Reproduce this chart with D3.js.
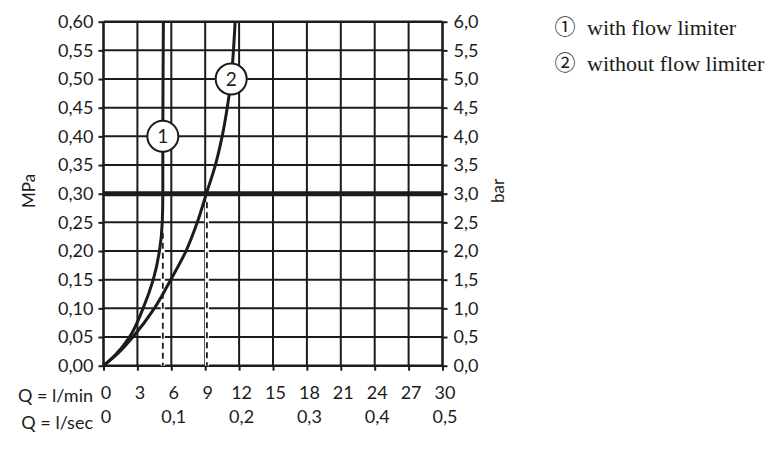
<!DOCTYPE html>
<html><head><meta charset="utf-8">
<script src="https://cdn.jsdelivr.net/npm/d3@7/dist/d3.min.js"></script>
<style>
html,body{margin:0;padding:0;background:#fff;}
svg{display:block;}
</style></head>
<body><svg id="c" width="780" height="450"></svg>
<script>
// ---- data ----
const qTicks = [0,3,6,9,12,15,18,21,24,27,30];           // l/min
const qsecTicks = [0,0.1,0.2,0.3,0.4,0.5];               // l/sec
const qsecLabels = ["0","0,1","0,2","0,3","0,4","0,5"];
const mpaTicks = [0,0.05,0.10,0.15,0.20,0.25,0.30,0.35,0.40,0.45,0.50,0.55,0.60];
const mpaLabels = ["0,00","0,05","0,10","0,15","0,20","0,25","0,30","0,35","0,40","0,45","0,50","0,55","0,60"];
const barTicks = [0,0.5,1,1.5,2,2.5,3,3.5,4,4.5,5,5.5,6];
const barLabels = ["0,0","0,5","1,0","1,5","2,0","2,5","3,0","3,5","4,0","4,5","5,0","5,5","6,0"];
// curve 1: with flow limiter  [Q l/min, p MPa]
const curve1 = [[0,0],[1.1,0.02],[2.3,0.05],[3.5,0.10],[4.4,0.15],[4.95,0.20],[5.2,0.25],[5.25,0.30],[5.25,0.40],[5.27,0.50],[5.3,0.60]];
// curve 2: without flow limiter
const curve2 = [[0,0],[1.2,0.02],[2.6,0.05],[4.5,0.10],[5.95,0.15],[7.3,0.20],[8.3,0.25],[9.1,0.30],[9.9,0.35],[10.5,0.40],[10.95,0.45],[11.3,0.50],[11.5,0.55],[11.65,0.60]];
const refPressure = 0.30;
const dashes = [{q:5.25, top:0.232},{q:9.15, top:0.285}];
const markers = [{q:5.25, p:0.40, label:"1"},{q:11.3, p:0.50, label:"2"}];
const legend = [{sym:"\u2460", text:"with flow limiter"},{sym:"\u2461", text:"without flow limiter"}];

// ---- chart ----
const svg = d3.select("#c");
const ink = "#1c1c1c";
const axisFont = "Lato, 'DejaVu Sans', sans-serif";
const x = d3.scaleLinear().domain([0,30]).range([103.5,442.5]);
const xs = d3.scaleLinear().domain([0,0.5]).range([103.5,442.5]);
const y = d3.scaleLinear().domain([0,0.6]).range([365.7,21.7]);
const yb = d3.scaleLinear().domain([0,6]).range([365.7,21.7]);

const g = svg.append("g");
// grid
g.selectAll("line.v").data(qTicks).join("line")
  .attr("x1",d=>x(d)).attr("x2",d=>x(d)).attr("y1",y(0)).attr("y2",y(0.6))
  .attr("stroke",ink).attr("stroke-width",d=>(d===0||d===30)?2.6:2);
g.selectAll("line.h").data(mpaTicks).join("line")
  .attr("x1",x(0)).attr("x2",x(30)).attr("y1",d=>y(d)).attr("y2",d=>y(d))
  .attr("stroke",ink).attr("stroke-width",d=>(d===0||d===0.6)?2.6:2);

// axes (ticks + labels)
const left = svg.append("g").attr("transform",`translate(${x(0)},0)`)
  .call(d3.axisLeft(y).tickValues(mpaTicks).tickSize(5).tickPadding(5).tickFormat((d,i)=>mpaLabels[i]));
const right = svg.append("g").attr("transform",`translate(${x(30)},0)`)
  .call(d3.axisRight(yb).tickValues(barTicks).tickSize(5).tickPadding(6).tickFormat((d,i)=>barLabels[i]));
const bottom = svg.append("g").attr("transform",`translate(0,${y(0)})`)
  .call(d3.axisBottom(x).tickValues(qTicks).tickSize(5).tickPadding(16).tickFormat(d=>String(d)));
const bottom2 = svg.append("g").attr("transform",`translate(0,${y(0)})`)
  .call(d3.axisBottom(xs).tickValues(qsecTicks).tickSize(0).tickPadding(45).tickFormat((d,i)=>qsecLabels[i]));
[left,right,bottom,bottom2].forEach(a=>{
  a.select(".domain").remove();
  a.selectAll(".tick line").attr("stroke",ink).attr("stroke-width",2);
  a.selectAll("text").attr("fill",ink).style("font-family",axisFont).style("font-size","18px");
});
bottom.selectAll("text").attr("dx",2);
bottom2.selectAll("text").attr("dx",2);

// reference line
svg.append("line").attr("x1",x(0)).attr("x2",x(30)).attr("y1",y(refPressure)).attr("y2",y(refPressure))
  .attr("stroke",ink).attr("stroke-width",5);

// dashed drop lines
svg.selectAll("line.dash").data(dashes).join("line")
  .attr("x1",d=>x(d.q)).attr("x2",d=>x(d.q)).attr("y1",d=>y(d.top)).attr("y2",y(0))
  .attr("stroke","#fff").attr("stroke-width",4);
svg.selectAll("line.dash2").data(dashes).join("line")
  .attr("x1",d=>x(d.q)).attr("x2",d=>x(d.q)).attr("y1",d=>y(d.top)).attr("y2",y(0))
  .attr("stroke",ink).attr("stroke-width",1.8).attr("stroke-dasharray","6,4");

// curves
const line = d3.line().x(d=>x(d[0])).y(d=>y(d[1])).curve(d3.curveMonotoneY);
[curve1,curve2].forEach(c=>{
  svg.append("path").attr("d",line(c)).attr("fill","none").attr("stroke",ink).attr("stroke-width",3);
});

// markers
const mk = svg.selectAll("g.mk").data(markers).join("g").attr("transform",d=>`translate(${x(d.q)},${y(d.p)})`);
mk.append("circle").attr("r",15.5).attr("fill","#fff").attr("stroke",ink).attr("stroke-width",2);
mk.append("text").attr("text-anchor","middle").attr("dy","0.36em").text(d=>d.label)
  .attr("fill",ink).style("font-family",axisFont).style("font-size","19px");

// axis titles
svg.append("text").attr("transform","translate(35,191) rotate(-90)").attr("text-anchor","middle")
  .text("MPa").attr("fill",ink).style("font-family",axisFont).style("font-size","17px");
svg.append("text").attr("transform","translate(504,191) rotate(-90)").attr("text-anchor","middle")
  .text("bar").attr("fill",ink).style("font-family",axisFont).style("font-size","17px");
svg.append("text").attr("x",93).attr("y",y(0)).attr("dy",36).attr("text-anchor","end")
  .text("Q = l/min").attr("fill",ink).style("font-family",axisFont).style("font-size","18px");
svg.append("text").attr("x",93).attr("y",y(0)).attr("dy",63).attr("text-anchor","end")
  .text("Q = l/sec").attr("fill",ink).style("font-family",axisFont).style("font-size","18px");

// legend
const lg = svg.selectAll("g.lg").data(legend).join("g").attr("transform",(d,i)=>`translate(0,${35+i*36})`);
lg.append("text").attr("x",565).attr("y",-1).attr("text-anchor","middle").text(d=>d.sym).attr("fill",ink)
  .style("font-family","'Noto Sans CJK JP','DejaVu Sans',sans-serif").style("font-size","21px");
lg.append("text").attr("x",587).text(d=>d.text).attr("fill",ink)
  .style("font-family","'Liberation Serif','Times New Roman',serif").style("font-size","22px");
</script></body></html>
